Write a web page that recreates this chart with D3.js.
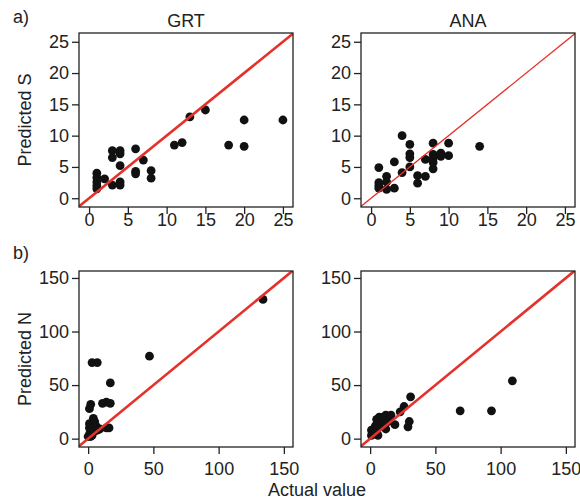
<!DOCTYPE html>
<html><head><meta charset="utf-8">
<script src="https://cdn.jsdelivr.net/npm/d3@7"></script>
<style>
html,body{margin:0;padding:0;background:#fff;}
text{font-family:"Liberation Sans",Arial,sans-serif;fill:#222;}
</style></head>
<body><svg id="c" width="580" height="504"></svg>
<script>
// Panel a) species richness S
const grtS_actual = [1,1,1,1,1,2,3,3,3,4,4,4,4,4,6,6,6,7,8,8,11,12,13,15,18,20,20,25];
const grtS_pred   = [4.0,3.3,2.6,2.0,1.5,3.1,7.6,6.5,2.1,7.6,7.1,5.2,2.6,2.1,7.9,4.3,3.9,6.1,4.4,3.2,8.5,8.9,13,14.1,8.5,12.5,8.3,12.5];
const anaS_actual = [1,1,1,1,2,2,2,3,3,4,4,5,5,5,5,6,6,7,7,8,8,8,8,8,9,9,10,10,14];
const anaS_pred   = [4.9,2.5,2.0,1.6,3.5,2.6,1.4,5.8,1.6,10,4.1,8.6,7.1,6.5,5.0,3.6,2.4,6.2,3.5,8.8,7.0,6.3,5.7,4.7,7.2,6.7,8.8,6.8,8.3];
// Panel b) abundance N
const grtN_actual = [134,47,3,7,17,11,14,17,2,1,4,5,1,2,4,6,1,3,5,7,9,14,16,2,1,3,5,0,2];
const grtN_pred   = [130,77,71,71,52,33,34,33,32,28,19,16,14,12,13,12,10,9,10,8,9,10,10,6,4,3,7,2,2];
const anaN_actual = [109,69,93,31,30,29,26,23,19,16,12,10,5,7,12,8,14,1,1,6,5,3,2,9,4];
const anaN_pred   = [54,26,26,39,16,11,30,25,13,22,22,20,18,20,9,14,16,8,3,3,6,9,5,12,12];
// Tick labels
const ticksS = [0,5,10,15,20,25];
const ticksN = [0,50,100,150];
const titles = ["GRT","ANA"];

const svg = d3.select("#c");
const cols = [[79,293],[361,575]];
const rows = [
  {y:[207,33], xd:[-1.3,26.3], yd:[-1.4,26.4], ticks:ticksS, lab:"Predicted S", tag:"a)", tagY:23, xlabY:226},
  {y:[447,271], xd:[-7,157], yd:[-7.8,156.5], ticks:ticksN, lab:"Predicted N", tag:"b)", tagY:259, xlabY:475}
];
const data = [[[grtS_actual,grtS_pred],[anaS_actual,anaS_pred]],[[grtN_actual,grtN_pred],[anaN_actual,anaN_pred]]];
const lineW = [[2.6,1.3],[2.6,2.6]];

rows.forEach((r,ri)=>{
  cols.forEach((c,ci)=>{
    const x = d3.scaleLinear().domain(r.xd).range(c);
    const y = d3.scaleLinear().domain(r.yd).range(r.y);
    const g = svg.append("g");
    const id = "clip"+ri+ci;
    g.append("clipPath").attr("id",id).append("rect")
      .attr("x",c[0]).attr("y",r.y[1]).attr("width",c[1]-c[0]).attr("height",r.y[0]-r.y[1]);
    // axes
    const ax = g.append("g").attr("transform",`translate(0,${r.y[0]})`)
      .call(d3.axisBottom(x).tickValues(r.ticks).tickSize(7).tickPadding(4).tickFormat(d3.format("d")));
    const ay = g.append("g").attr("transform",`translate(${c[0]},0)`)
      .call(d3.axisLeft(y).tickValues(r.ticks).tickSize(7).tickPadding(3).tickFormat(d3.format("d")));
    [ax,ay].forEach(a=>{
      a.select(".domain").remove();
      a.selectAll("line").attr("stroke","#222").attr("stroke-width",1.3);
      a.selectAll("text").attr("font-size",18).attr("fill","#222").style("font-family","'Liberation Sans',Arial,sans-serif");
    });
    ax.selectAll("text").attr("dy",null).attr("y",null)
      .attr("transform",d=>`translate(0,${r.xlabY-r.y[0]})`);
    // points
    const [xs,ys] = data[ri][ci];
    g.append("g").attr("clip-path",`url(#${id})`).selectAll("circle").data(xs.map((v,i)=>[v,ys[i]]))
      .join("circle").attr("cx",d=>x(d[0])).attr("cy",d=>y(d[1])).attr("r",4.4).attr("fill","#111");
    // 1:1 line
    const lo = Math.min(r.xd[0],r.yd[0]), hi = Math.max(r.xd[1],r.yd[1]);
    g.append("line").attr("clip-path",`url(#${id})`)
      .attr("x1",x(lo)).attr("y1",y(lo)).attr("x2",x(hi)).attr("y2",y(hi))
      .attr("stroke","#e4312b").attr("stroke-width",lineW[ri][ci]);
    // box
    g.append("rect").attr("x",c[0]).attr("y",r.y[1]).attr("width",c[1]-c[0]).attr("height",r.y[0]-r.y[1])
      .attr("fill","none").attr("stroke","#222").attr("stroke-width",1.3);
    if(ri===0){
      svg.append("text").attr("x",(c[0]+c[1])/2).attr("y",27).attr("text-anchor","middle")
        .attr("font-size",18).text(titles[ci]);
    }
  });
  svg.append("text").attr("x",13).attr("y",r.tagY).attr("font-size",18).text(r.tag);
  const cy = (r.y[0]+r.y[1])/2;
  svg.append("text").attr("transform",`translate(31,${cy}) rotate(-90)`).attr("text-anchor","middle")
    .attr("font-size",18).text(r.lab);
});
svg.append("text").attr("x",317).attr("y",496).attr("text-anchor","middle").attr("font-size",18).text("Actual value");
</script></body></html>
